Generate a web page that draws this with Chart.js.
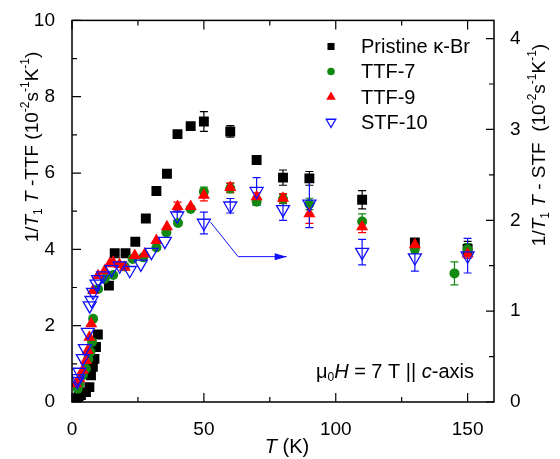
<!DOCTYPE html>
<html>
<head>
<meta charset="utf-8">
<script src="https://cdn.jsdelivr.net/npm/chart.js@4.4.1/dist/chart.umd.min.js"></script>
<style>
  html, body { margin: 0; padding: 0; background: #fff; }
</style>
</head>
<body>
<canvas id="myChart" width="560" height="459"></canvas>
<script>
// --- data ---
const pristineT = [2, 2.5, 3.4, 5.3, 6.6, 7.2, 7.9, 8.5, 9.1, 9.8, 14, 16.2, 20.3, 24, 28, 32, 36, 40, 45, 50, 60, 70, 80, 90, 110, 130, 150];
const pristineV = [0.1, 0.14, 0.18, 0.26, 0.39, 0.7, 0.92, 1.13, 1.44, 1.77, 3.05, 3.9, 3.9, 4.2, 4.81, 5.53, 5.98, 7.02, 7.23, 7.35, 7.09, 6.34, 5.88, 5.86, 5.3, 4.18, 4.01];
const pristineE = [0, 0, 0, 0, 0, 0, 0, 0, 0, 0, 0, 0, 0, 0, 0, 0, 0, 0, 0, 0.26, 0.15, 0.1, 0.2, 0.18, 0.24, 0.1, 0.2];

const ttf7T = [2.2, 2.8, 4.1, 5.3, 6.2, 7, 7.6, 8, 9.9, 12.4, 15.6, 20, 23, 27, 32, 35.8, 40.2, 45, 50, 60, 70, 80, 90, 110, 130, 145, 150];
const ttf7V = [0.35, 0.48, 0.7, 0.87, 1.13, 1.31, 1.57, 2.18, 2.96, 3.23, 3.33, 3.55, 3.75, 3.79, 4.05, 4.44, 4.69, 5.06, 5.51, 5.6, 5.25, 5.32, 5.19, 4.73, 4.01, 3.37, 4.0];
const ttf7E = [0, 0, 0, 0, 0, 0, 0, 0, 0, 0, 0, 0, 0, 0, 0, 0, 0, 0, 0.12, 0.12, 0.1, 0.12, 0.15, 0.2, 0.1, 0.3, 0.15];

const ttf9T = [1.5, 2.8, 4.1, 5.3, 6, 6.6, 7.3, 8, 9.9, 12.4, 14.3, 15.6, 18, 20, 23.8, 27.6, 32, 36, 40, 45, 50, 60, 70, 80, 90, 110, 130, 150];
const ttf9V = [0.48, 0.61, 0.83, 1.09, 1.35, 1.7, 2.05, 2.92, 3.31, 3.44, 3.62, 3.66, 3.6, 3.53, 3.84, 3.88, 4.23, 4.59, 5.12, 5.12, 5.42, 5.62, 5.38, 5.34, 4.93, 4.59, 4.12, 3.88];
const ttf9E = [0, 0, 0, 0, 0, 0, 0, 0, 0, 0, 0, 0, 0, 0, 0, 0, 0, 0, 0.12, 0, 0.15, 0.12, 0.1, 0.12, 0.25, 0.15, 0.1, 0.12];

// STF-10 is read against the right axis
const stf10T = [2, 2.2, 2.8, 4.1, 4.9, 6, 6.7, 7.4, 8, 9.3, 9.9, 11.8, 15, 18.1, 21.9, 26.1, 30.1, 35.2, 39.9, 50, 60, 70, 80, 90, 110, 130, 150];
const stf10V = [0.23, 0.26, 0.33, 0.48, 0.59, 0.77, 1.06, 1.12, 1.21, 1.3, 1.35, 1.39, 1.46, 1.5, 1.45, 1.52, 1.65, 1.77, 2.05, 1.97, 2.16, 2.32, 2.12, 2.18, 1.65, 1.59, 1.61];
const stf10E = [0, 0, 0, 0, 0, 0, 0, 0, 0, 0, 0, 0, 0, 0, 0, 0, 0, 0, 0.05, 0.12, 0.08, 0.15, 0.12, 0.26, 0.14, 0.15, 0.19];

const xTicks = [0, 50, 100, 150];
const yTicks = [0, 2, 4, 6, 8, 10];
const y2Ticks = [0, 1, 2, 3, 4];

// arrow from the STF-10 point to the right axis (T, right-axis value)
const arrowT = [52.5, 63, 81.4];
const arrowV = [1.98, 1.6, 1.6];

const FONT = '"Liberation Sans", Arial, Helvetica, sans-serif';
const GREEN = '#128a12';
const BLUE = '#1010ff';

const pts = (t, v) => t.map((x, i) => ({ x: x, y: v[i] }));

// rich text: segments with italic / sub / sup
function drawRich(ctx, segs, x, y, size, align) {
  let w = 0;
  const parts = segs.map(s => {
    const small = s.sub || s.sup;
    const fs = small ? Math.round(size * 0.62) : size;
    const f = (s.it ? 'italic ' : '') + fs + 'px ' + FONT;
    ctx.font = f;
    const m = ctx.measureText(s.t).width;
    w += m;
    return { t: s.t, f: f, m: m, dy: s.sub ? size * 0.3 : s.sup ? -size * 0.38 : 0 };
  });
  let cx = align === 'center' ? x - w / 2 : align === 'right' ? x - w : x;
  ctx.textAlign = 'left';
  ctx.textBaseline = 'middle';
  parts.forEach(p => {
    ctx.font = p.f;
    ctx.fillText(p.t, cx, y + p.dy);
    cx += p.m;
  });
}

const errorBars = {
  id: 'errorBars',
  beforeDatasetsDraw(chart) {
    const ctx = chart.ctx;
    const xs = chart.scales.x;
    chart.data.datasets.forEach(ds => {
      const ys = chart.scales[ds.yAxisID];
      ctx.save();
      ctx.strokeStyle = ds.errColor;
      ctx.lineWidth = 1.2;
      ds.data.forEach((p, i) => {
        const e = ds.err[i];
        if (!e) return;
        const px = xs.getPixelForValue(p.x);
        const top = ys.getPixelForValue(p.y + e);
        const bot = ys.getPixelForValue(p.y - e);
        ctx.beginPath();
        ctx.moveTo(px, top); ctx.lineTo(px, bot);
        ctx.moveTo(px - 4, top); ctx.lineTo(px + 4, top);
        ctx.moveTo(px - 4, bot); ctx.lineTo(px + 4, bot);
        ctx.stroke();
      });
      ctx.restore();
    });
  }
};

const decorations = {
  id: 'decorations',
  afterDraw(chart) {
    const ctx = chart.ctx;
    const a = chart.chartArea;
    const xs = chart.scales.x, ys = chart.scales.y, y2 = chart.scales.y2;
    ctx.save();
    ctx.strokeStyle = '#000';
    ctx.lineWidth = 1.5;
    ctx.strokeRect(a.left, a.top, a.right - a.left, a.bottom - a.top);

    // inward ticks
    ctx.lineWidth = 1.2;
    ctx.beginPath();
    for (let v = 0; v <= 150; v += 25) {
      const px = xs.getPixelForValue(v);
      const len = v % 50 === 0 ? 9 : 5;
      ctx.moveTo(px, a.bottom); ctx.lineTo(px, a.bottom - len);
      ctx.moveTo(px, a.top); ctx.lineTo(px, a.top + len);
    }
    for (let v = 0; v <= 10; v += 1) {
      const py = ys.getPixelForValue(v);
      const len = v % 2 === 0 ? 9 : 5;
      ctx.moveTo(a.left, py); ctx.lineTo(a.left + len, py);
    }
    for (let v = 0; v <= 4; v += 0.5) {
      const py = y2.getPixelForValue(v);
      const len = v % 1 === 0 ? 8 : 5;
      ctx.moveTo(a.right, py); ctx.lineTo(a.right - len, py);
    }
    ctx.stroke();

    // arrow
    ctx.strokeStyle = BLUE;
    ctx.fillStyle = BLUE;
    ctx.lineWidth = 1;
    ctx.beginPath();
    arrowT.forEach((t, i) => {
      const px = xs.getPixelForValue(t), py = y2.getPixelForValue(arrowV[i]);
      if (i === 0) ctx.moveTo(px, py); else ctx.lineTo(px, py);
    });
    ctx.stroke();
    const ex = xs.getPixelForValue(arrowT[2]), ey = y2.getPixelForValue(arrowV[2]);
    ctx.beginPath();
    ctx.moveTo(ex, ey);
    ctx.lineTo(ex - 12, ey - 3.5);
    ctx.lineTo(ex - 12, ey + 3.5);
    ctx.closePath();
    ctx.fill();

    ctx.fillStyle = '#000';
    // x title
    drawRich(ctx, [{ t: 'T', it: true }, { t: ' (K)' }], (a.left + a.right) / 2 + 4, 447, 20, 'center');

    // left title
    ctx.save();
    ctx.translate(33, 147);
    ctx.rotate(-Math.PI / 2);
    drawRich(ctx, [
      { t: '1/' }, { t: 'T', it: true }, { t: '1', sub: true }, { t: ' ' }, { t: 'T', it: true },
      { t: ' -TTF (10' }, { t: '-2', sup: true }, { t: 's' }, { t: '-1', sup: true }, { t: 'K' },
      { t: '-1', sup: true }, { t: ')' }
    ], 0, 0, 19, 'center');
    ctx.restore();

    // right title
    ctx.save();
    ctx.translate(540, 145);
    ctx.rotate(-Math.PI / 2);
    drawRich(ctx, [
      { t: '1/' }, { t: 'T', it: true }, { t: '1', sub: true }, { t: ' ' }, { t: 'T', it: true },
      { t: ' - STF  (10' }, { t: '-2', sup: true }, { t: 's' }, { t: '-1', sup: true }, { t: 'K' },
      { t: '-1', sup: true }, { t: ')' }
    ], 0, 0, 19, 'center');
    ctx.restore();

    // annotation
    drawRich(ctx, [
      { t: '\u03bc' }, { t: '0', sub: true }, { t: 'H', it: true }, { t: ' = 7 T || ' },
      { t: 'c', it: true }, { t: '-axis' }
    ], 474, 372, 20, 'right');
    ctx.restore();

    // legend: markers with their own colours, then labels
    const rows = [46.5, 71.5, 97, 122];
    chart.data.datasets.forEach(ds => {
      const y = rows[ds.legendRow];
      ctx.save();
      ctx.fillStyle = ds.backgroundColor;
      ctx.strokeStyle = ds.borderColor;
      ctx.lineWidth = ds.borderWidth;
      Chart.helpers.drawPoint(ctx, {
        pointStyle: ds.pointStyle, radius: ds.legendRadius, rotation: ds.rotation || 0,
        borderWidth: ds.borderWidth
      }, 331, y);
      ctx.fillStyle = '#000';
      ctx.font = '20px ' + FONT;
      ctx.textAlign = 'left';
      ctx.textBaseline = 'middle';
      ctx.fillText(ds.label, 361, y + 1);
      ctx.restore();
    });
  }
};

const tickFont = { family: FONT, size: 19 };

new Chart(document.getElementById('myChart'), {
  type: 'scatter',
  data: {
    datasets: [
      {
        label: 'Pristine \u03ba-Br', data: pts(pristineT, pristineV), err: pristineE, errColor: '#000',
        yAxisID: 'y', pointStyle: 'rect', pointRadius: 7, legendRadius: 5, legendRow: 0,
        backgroundColor: '#000', borderColor: '#000', borderWidth: 0, order: 4
      },
      {
        label: 'TTF-7', data: pts(ttf7T, ttf7V), err: ttf7E, errColor: GREEN,
        yAxisID: 'y', pointStyle: 'circle', pointRadius: 5, legendRadius: 3.8, legendRow: 1,
        backgroundColor: GREEN, borderColor: GREEN, borderWidth: 0, order: 3
      },
      {
        label: 'TTF-9', data: pts(ttf9T, ttf9V), err: ttf9E, errColor: '#ff0000',
        yAxisID: 'y', pointStyle: 'triangle', pointRadius: 7, legendRadius: 5.5, legendRow: 2,
        backgroundColor: '#ff0000', borderColor: '#ff0000', borderWidth: 0, order: 2
      },
      {
        label: 'STF-10', data: pts(stf10T, stf10V), err: stf10E, errColor: BLUE,
        yAxisID: 'y2', pointStyle: 'triangle', rotation: 180, pointRadius: 7.5, legendRadius: 5.5, legendRow: 3,
        backgroundColor: 'rgba(0,0,0,0)', borderColor: BLUE, borderWidth: 1.3, order: 1
      }
    ]
  },
  options: {
    responsive: false,
    animation: false,
    layout: { padding: { top: 19, left: 0, right: 0, bottom: 0 } },
    plugins: { legend: { display: false }, tooltip: { enabled: false } },
    elements: { point: { hoverRadius: 0 } },
    scales: {
      x: {
        type: 'linear', min: 0, max: 160,
        grid: { display: false }, border: { display: false },
        afterBuildTicks: s => { s.ticks = xTicks.map(v => ({ value: v })); },
        afterFit: s => { s.height = 57; },
        ticks: { color: '#000', font: tickFont, padding: 8, maxRotation: 0 }
      },
      y: {
        type: 'linear', position: 'left', min: 0, max: 10,
        grid: { display: false }, border: { display: false },
        afterBuildTicks: s => { s.ticks = yTicks.map(v => ({ value: v })); },
        afterFit: s => { s.width = 72; },
        ticks: { color: '#000', font: tickFont, padding: 9 }
      },
      y2: {
        type: 'linear', position: 'right', min: 0, max: 4.2,
        grid: { display: false }, border: { display: false },
        afterBuildTicks: s => { s.ticks = y2Ticks.map(v => ({ value: v })); },
        afterFit: s => { s.width = 66; },
        ticks: { color: '#000', font: tickFont, padding: 8 }
      }
    }
  },
  plugins: [errorBars, decorations]
});
</script>
</body>
</html>
